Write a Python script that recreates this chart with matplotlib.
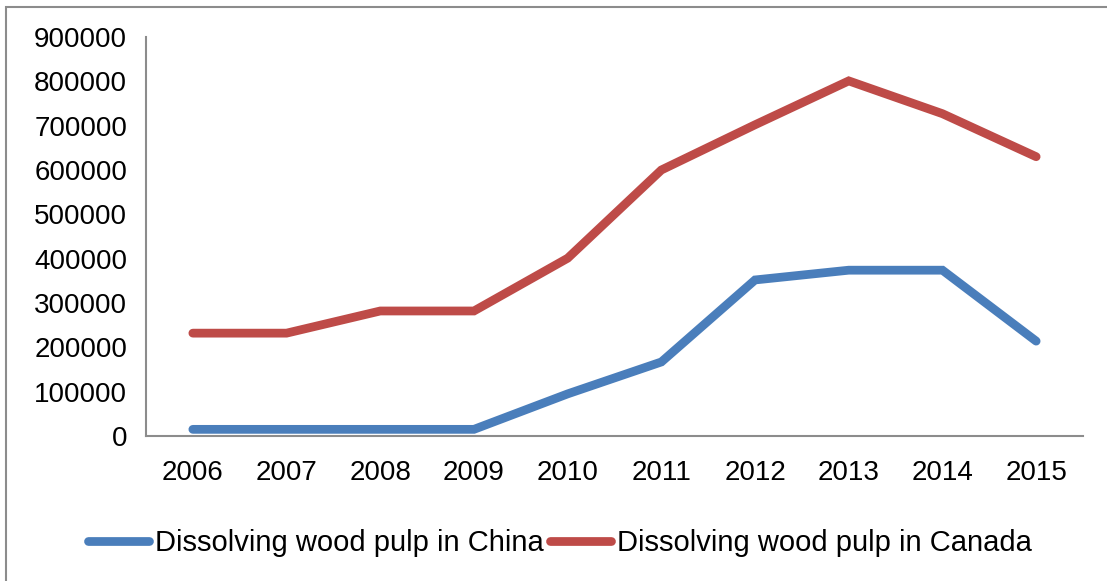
import matplotlib.pyplot as plt
from matplotlib.patches import Rectangle

years = ["2006", "2007", "2008", "2009", "2010", "2011", "2012", "2013", "2014", "2015"]
china = [15000, 15000, 15000, 15000, 95000, 167000, 352000, 374000, 374000, 214000]
canada = [232000, 232000, 282000, 282000, 401000, 600000, 702000, 801000, 727000, 630000]
yticks = [0, 100000, 200000, 300000, 400000, 500000, 600000, 700000, 800000, 900000]

plt.rcParams['font.family'] = ['Liberation Sans', 'DejaVu Sans']

fig = plt.figure(figsize=(11.07, 5.81), dpi=100)
# frame round the whole chart area
fig.patches.append(Rectangle((6/1107, -0.1), 1.2, 1.1 - 7/581, transform=fig.transFigure,
                             fill=False, edgecolor='#8c8c8c', linewidth=1.5))

ax = fig.add_axes([146/1107, 145/581, 937/1107, 399/581])
x = range(len(years))
ax.plot(x, china, color='#4A7EBB', linewidth=6.3, solid_capstyle='round', solid_joinstyle='miter',
        label='Dissolving wood pulp in China')
ax.plot(x, canada, color='#BE4B48', linewidth=6.3, solid_capstyle='round', solid_joinstyle='miter',
        label='Dissolving wood pulp in Canada')

ax.set_xlim(-0.5, len(years) - 0.5)
ax.set_ylim(0, 900000)
ax.set_yticks(yticks)
ax.set_yticklabels([str(v) for v in yticks])
ax.set_xticks(list(x))
ax.set_xticklabels(years)
ax.tick_params(axis='both', length=0, labelsize=20)
ax.tick_params(axis='x', pad=17)
ax.tick_params(axis='y', pad=13.5)

for s in ['top', 'right']:
    ax.spines[s].set_visible(False)
for s in ['left', 'bottom']:
    ax.spines[s].set_color('#8c8c8c')
    ax.spines[s].set_linewidth(1.5)

fig.legend(loc='center', bbox_to_anchor=(560/1107, 38/581), ncol=2, frameon=False,
           fontsize=21, handlelength=2.1, handletextpad=0.2, columnspacing=0.2)

fig.savefig('out.png', dpi=100)
